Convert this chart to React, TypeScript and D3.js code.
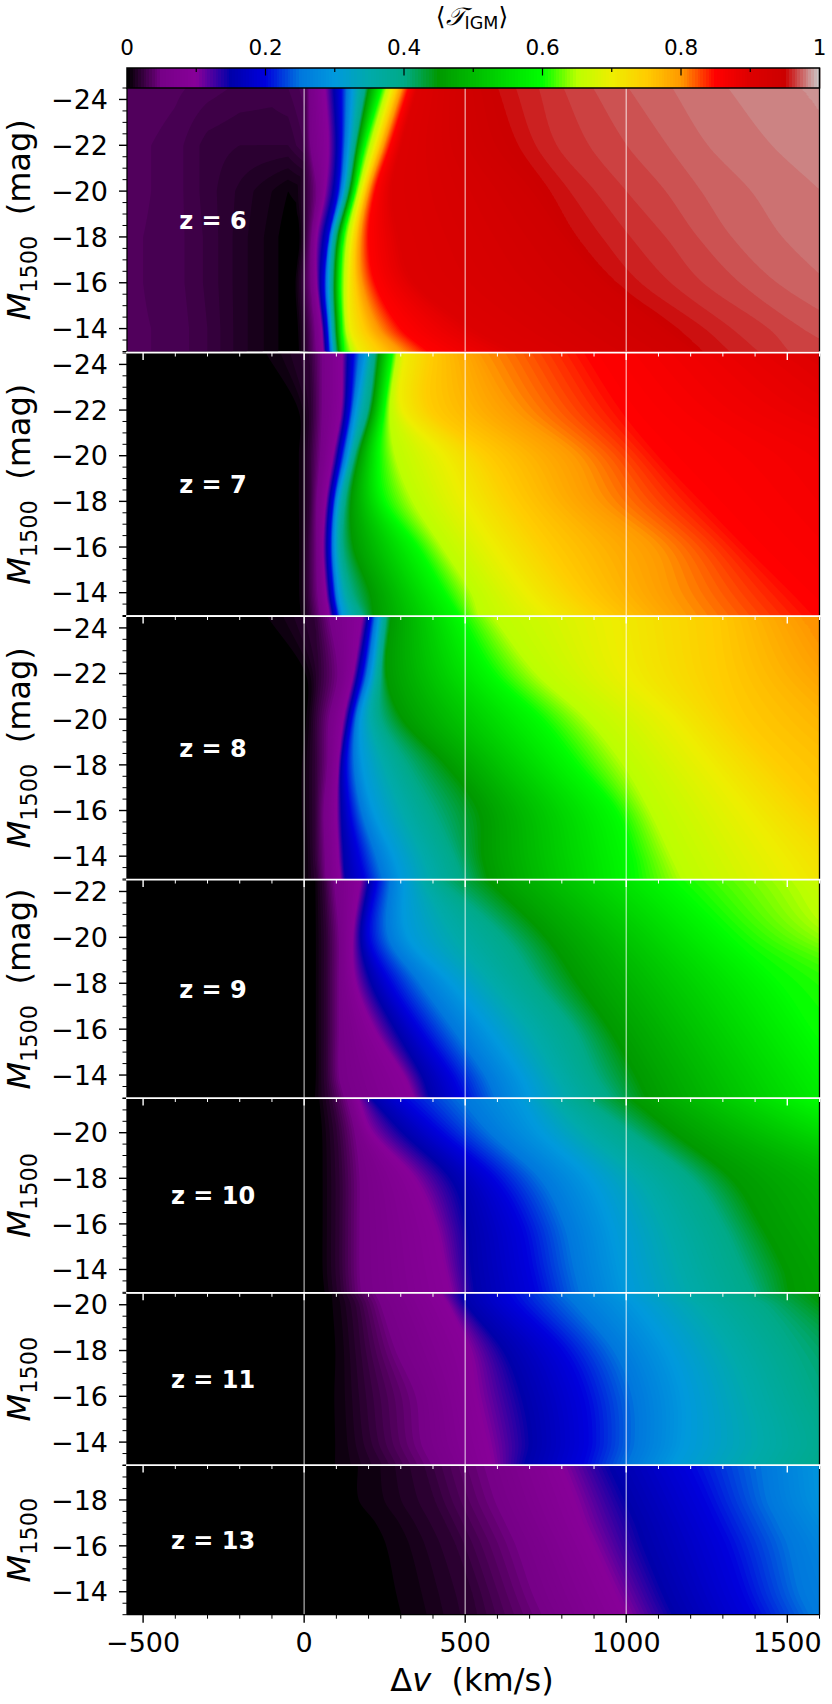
import React, { useMemo } from "react";
import * as d3 from "d3";

// nipy_spectral colour stops
const CMAP_STOPS = [
  [0, 0, 0], [0.4667, 0, 0.5333], [0.5333, 0, 0.6], [0, 0, 0.6667], [0, 0, 0.8667],
  [0, 0.4667, 0.8667], [0, 0.6, 0.8667], [0, 0.6667, 0.6667], [0, 0.6667, 0.5333], [0, 0.6, 0],
  [0, 0.7333, 0], [0, 0.8667, 0], [0, 1, 0], [0.7333, 1, 0], [0.9333, 0.9333, 0],
  [1, 0.8, 0], [1, 0.6, 0], [1, 0, 0], [0.8667, 0, 0], [0.8, 0, 0], [0.8, 0.8, 0.8],
];

// Each table: Delta-v (km/s) where <T_IGM> crosses a level (one row per level), per magnitude column
const Z6_MAGS = [-24.5, -22, -20, -18, -16, -14, -13];
const Z6_LEVELS = [0.02, 0.05, 0.1, 0.15, 0.2, 0.3, 0.4, 0.45, 0.6, 0.7, 0.8, 0.85, 0.9, 0.94, 0.952, 0.956, 0.96, 0.964, 0.968, 0.972, 0.976, 0.98, 0.984];
const Z6_EDGES = [
  [0, 0, 3, 3, -5, 5, 8],
  [15, 20, 40, 24, 22, 35, 38],
  [65, 75, 65, 39, 39, 55, 60],
  [92, 100, 90, 60, 50, 62, 67],
  [115, 115, 105, 76, 62, 72, 76],
  [150, 138, 122, 86, 76, 83, 88],
  [190, 158, 135, 98, 88, 93, 98],
  [200, 166, 143, 107, 96, 101, 107],
  [241, 189, 158, 122, 112, 117, 122],
  [272, 220, 179, 148, 138, 143, 170],
  [303, 246, 200, 174, 179, 230, 300],
  [324, 267, 220, 200, 220, 300, 385],
  [350, 300, 270, 290, 340, 520, 650],
  [520, 560, 680, 790, 920, 1100, 1200],
  [601, 665, 763, 847, 971, 1159, 1238],
  [657, 719, 824, 924, 1044, 1243, 1321],
  [728, 784, 903, 1013, 1138, 1327, 1410],
  [805, 885, 1000, 1122, 1238, 1442, 1505],
  [897, 1002, 1122, 1222, 1353, 1547, 1672],
  [1007, 1128, 1232, 1327, 1468, 1693, 1798],
  [1143, 1253, 1387, 1484, 1630, 1798, 1903],
  [1316, 1452, 1604, 1745, 1882, 2007, 2112],
  [1541, 1693, 1903, 2112, 2321, 2531, 2636],
];
const Z6_LEFT_DV = [-550, -400, -300, -200, -100, -50, 0, 60];
const Z6_LEFT = [
  [0.036, 0.033, 0.03, 0.027, 0.026, 0.028, 0.034, 0],
  [0.034, 0.03, 0.022, 0.02, 0.02, 0.02, 0.028, 0],
  [0.034, 0.03, 0.022, 0.015, 0.008, 0.004, 0.006, 0],
  [0.033, 0.03, 0.023, 0.014, 0.006, 0.001, 0.001, 0],
  [0.033, 0.03, 0.023, 0.014, 0.006, 0.001, 0.001, 0],
  [0.033, 0.031, 0.024, 0.014, 0.006, 0.001, 0.001, 0],
  [0.033, 0.031, 0.024, 0.014, 0.006, 0.001, 0.001, 0],
];

const Z7_MAGS = [-24.5, -22, -20, -18, -16, -14, -13];
const Z7_LEVELS = [0.005, 0.02, 0.05, 0.1, 0.15, 0.2, 0.3, 0.4, 0.45, 0.6, 0.65, 0.7, 0.75, 0.8, 0.85, 0.9];
const Z7_EDGES = [
  [-96, -11, -11, -11, -11, -11, -6],
  [17, 23, 17, 17, 11, 11, 17],
  [57, 57, 51, 40, 40, 43, 51],
  [119, 115, 90, 68, 59, 68, 79],
  [136, 127, 104, 79, 71, 79, 90],
  [153, 141, 115, 90, 81, 90, 102],
  [192, 161, 136, 104, 96, 107, 119],
  [221, 198, 156, 127, 119, 147, 181],
  [232, 209, 170, 145, 153, 204, 215],
  [274, 249, 232, 249, 351, 435, 481],
  [288, 266, 283, 339, 430, 520, 543],
  [311, 305, 430, 498, 588, 690, 758],
  [396, 396, 566, 656, 758, 860, 939],
  [543, 656, 837, 916, 1086, 1142, 1188],
  [882, 995, 1108, 1244, 1380, 1527, 1595],
  [1595, 1900, 2400, 2500, 2600, 2700, 2800],
];

const Z8_MAGS = [-24.5, -22, -20, -18, -16, -14, -13];
const Z8_LEVELS = [0.005, 0.02, 0.05, 0.1, 0.15, 0.2, 0.3, 0.4, 0.45, 0.6, 0.65, 0.7, 0.75, 0.8];
const Z8_EDGES = [
  [-90, 11, 11, 0, 0, 6, 6],
  [34, 45, 34, 34, 34, 34, 40],
  [79, 107, 79, 74, 62, 66, 68],
  [181, 153, 122, 107, 102, 107, 113],
  [198, 167, 136, 115, 115, 122, 127],
  [209, 181, 147, 130, 141, 170, 187],
  [232, 209, 175, 181, 215, 277, 300],
  [254, 238, 238, 317, 396, 464, 492],
  [269, 254, 305, 441, 543, 554, 571],
  [486, 588, 735, 848, 967, 1018, 1029],
  [588, 724, 882, 995, 1075, 1142, 1176],
  [950, 1000, 1142, 1255, 1368, 1470, 1516],
  [1278, 1301, 1357, 1482, 1617, 1787, 1844],
  [1538, 1674, 1900, 2126, 2240, 2352, 2465],
];

const Z9_MAGS = [-22.5, -20, -18, -16, -14, -13];
const Z9_LEVELS = [0.02, 0.05, 0.1, 0.15, 0.2, 0.3, 0.4, 0.45, 0.6, 0.65, 0.7];
const Z9_EDGES = [
  [61, 69, 69, 69, 69, 75],
  [94, 110, 110, 110, 110, 127],
  [176, 151, 160, 217, 308, 340],
  [201, 176, 209, 283, 365, 390],
  [225, 201, 266, 357, 456, 489],
  [308, 324, 456, 571, 670, 702],
  [423, 620, 719, 834, 900, 949],
  [571, 752, 850, 949, 1031, 1064],
  [1147, 1327, 1476, 1574, 1673, 1722],
  [1525, 1689, 2183, 2500, 2800, 3000],
  [1772, 2183, 2600, 2900, 3100, 3300],
];

const Z10_MAGS = [-21.5, -20, -18, -16, -14, -13];
const Z10_LEVELS = [0.02, 0.05, 0.1, 0.15, 0.2, 0.3, 0.4, 0.45, 0.6];
const Z10_EDGES = [
  [86, 102, 110, 110, 110, 115],
  [135, 160, 176, 176, 176, 180],
  [168, 209, 341, 406, 439, 456],
  [209, 308, 456, 505, 521, 530],
  [308, 423, 587, 670, 702, 719],
  [670, 735, 883, 949, 982, 999],
  [867, 1015, 1200, 1295, 1360, 1393],
  [1016, 1147, 1327, 1418, 1492, 1508],
  [1591, 1854, 2347, 2512, 2676, 2841],
];

const Z11_MAGS = [-20.5, -20, -18, -16, -14, -13];
const Z11_LEVELS = [0.005, 0.02, 0.05, 0.1, 0.15, 0.2, 0.3, 0.4, 0.45];
const Z11_EDGES = [
  [95, 100, 110, 110, 115, 120],
  [143, 160, 176, 192, 209, 242],
  [225, 242, 291, 357, 373, 406],
  [423, 447, 513, 538, 571, 587],
  [489, 505, 620, 678, 702, 686],
  [637, 661, 801, 867, 883, 867],
  [983, 1031, 1130, 1179, 1179, 1147],
  [1360, 1426, 1525, 1591, 1657, 1624],
  [1591, 1624, 1854, 2018, 2183, 2183],
];

const Z13_MAGS = [-19.5, -18, -17, -16, -14, -13];
const Z13_LEVELS = [0.005, 0.02, 0.05, 0.1, 0.15, 0.2, 0.25, 0.3];
const Z13_EDGES = [
  [201, 209, 258, 291, 324, 341],
  [373, 406, 439, 472, 521, 538],
  [571, 604, 637, 670, 719, 752],
  [801, 842, 867, 900, 966, 999],
  [949, 999, 1031, 1056, 1114, 1147],
  [1196, 1245, 1278, 1311, 1360, 1393],
  [1426, 1443, 1476, 1508, 1541, 1574],
  [1624, 1640, 1689, 1755, 1854, 1887],
];

const REDSHIFTS = [6, 7, 8, 9, 10, 11, 13];
const MAG_TOPS = [-24.5, -24.5, -24.5, -22.5, -21.5, -20.5, -19.5];
const Y_UNITS = ["(mag)", "(mag)", "(mag)", "(mag)", "", "", ""];
const X_MAJOR = [-500, 0, 500, 1000, 1500];
const X_MINOR = d3.range(-500, 1601, 100);
const MARKED_DV = [0, 500, 1000];
const CBAR_TICKS = [0, 0.2, 0.4, 0.6, 0.8, 1];
const CBAR_MINOR = d3.range(1, 10).map((d) => d / 10);

const TABLES = [
  { mags: Z6_MAGS, levels: Z6_LEVELS, edges: Z6_EDGES, left: Z6_LEFT },
  { mags: Z7_MAGS, levels: Z7_LEVELS, edges: Z7_EDGES },
  { mags: Z8_MAGS, levels: Z8_LEVELS, edges: Z8_EDGES },
  { mags: Z9_MAGS, levels: Z9_LEVELS, edges: Z9_EDGES },
  { mags: Z10_MAGS, levels: Z10_LEVELS, edges: Z10_EDGES },
  { mags: Z11_MAGS, levels: Z11_LEVELS, edges: Z11_EDGES },
  { mags: Z13_MAGS, levels: Z13_LEVELS, edges: Z13_EDGES },
];

// layout (pixels)
const W = 832, H = 1704;
const PLOT_L = 127, PLOT_R = 819.5;
const CB_T = 68, CB_B = 88;
const PANEL_T = [88, 353, 616.5, 880, 1098.5, 1293.3, 1465.5];
const PANEL_B = [351.5, 615.5, 879, 1098, 1292.3, 1465, 1614.7];
const FONT = "'DejaVu Sans', sans-serif";
const STEP = 0.004;

const xScale = d3.scaleLinear().domain([-550, 1600]).range([PLOT_L, PLOT_R]);
const cbScale = d3.scaleLinear().domain([0, 1]).range([PLOT_L, PLOT_R]);
const colorAt = d3.scaleLinear<string>()
  .domain(CMAP_STOPS.map((_, i) => i / 20))
  .range(CMAP_STOPS.map((c) => `rgb(${c.map((v) => Math.round(v * 255)).join(",")})`))
  .clamp(true);
const BANDS = d3.range(0, 250).map((i) => i * STEP);

// Hermite interpolation through non-uniform knots
function smoothAt(xs: number[], ys: number[], x: number) {
  const n = xs.length;
  let i = d3.bisectRight(xs, x) - 1;
  i = Math.max(0, Math.min(n - 2, i));
  const h = xs[i + 1] - xs[i];
  const slope = (a: number) => {
    if (a === 0) return (ys[1] - ys[0]) / (xs[1] - xs[0]);
    if (a === n - 1) return (ys[n - 1] - ys[n - 2]) / (xs[n - 1] - xs[n - 2]);
    return (ys[a + 1] - ys[a - 1]) / (xs[a + 1] - xs[a - 1]);
  };
  const t = (x - xs[i]) / h;
  const t2 = t * t, t3 = t2 * t;
  return (2 * t3 - 3 * t2 + 1) * ys[i] + (t3 - 2 * t2 + t) * h * slope(i) +
    (-2 * t3 + 3 * t2) * ys[i + 1] + (t3 - t2) * h * slope(i + 1);
}

function buildField(index: number, nx: number, ny: number, gx: any, gy: any) {
  const table: any = TABLES[index];
  const out = new Float64Array(nx * ny);
  for (let j = 0; j < ny; j++) {
    const m = gy(j + 0.5);
    const pos: number[] = [];
    table.edges.forEach((row: number[], k: number) => {
      const p = smoothAt(table.mags, row, m);
      pos.push(k ? Math.max(p, pos[k - 1] + 0.01) : p);
    });
    const lv = table.levels;
    let leftRow: number[] | null = null;
    if (table.left) {
      const b = Math.max(0, Math.min(table.mags.length - 2, d3.bisectRight(table.mags, m) - 1));
      const f = (m - table.mags[b]) / (table.mags[b + 1] - table.mags[b]);
      leftRow = table.left[b].map((v: number, q: number) => v + (table.left[b + 1][q] - v) * f);
    }
    for (let i = 0; i < nx; i++) {
      const x = gx(i + 0.5);
      let t: number;
      const b = d3.bisectRight(pos, x);
      if (b === 0) {
        const p0 = pos[0] - (pos[1] - pos[0]);
        t = x <= p0 ? 0 : (lv[0] * (x - p0)) / (pos[0] - p0);
      } else if (b >= pos.length) {
        t = lv[lv.length - 1];
      } else {
        t = lv[b - 1] + ((lv[b] - lv[b - 1]) * (x - pos[b - 1])) / (pos[b] - pos[b - 1]);
      }
      if (leftRow && x < Z6_LEFT_DV[Z6_LEFT_DV.length - 1]) {
        const q = Math.max(0, d3.bisectRight(Z6_LEFT_DV, x) - 1);
        const g = (x - Z6_LEFT_DV[q]) / (Z6_LEFT_DV[q + 1] - Z6_LEFT_DV[q]);
        t = Math.max(t, leftRow[q] + (leftRow[q + 1] - leftRow[q]) * g);
      }
      out[j * nx + i] = t;
    }
  }
  return out;
}

function Panel({ index }: { index: number }) {
  const top = PANEL_T[index], bottom = PANEL_B[index];
  const yScale = d3.scaleLinear().domain([MAG_TOPS[index], -13]).range([top, bottom]);
  const paths = useMemo(() => {
    const nx = 346, ny = Math.round((bottom - top) / 1.5);
    const gx = d3.scaleLinear().domain([0, nx]).range([-550, 1600]);
    const gy = d3.scaleLinear().domain([0, ny]).range([MAG_TOPS[index], -13]);
    const values = buildField(index, nx, ny, gx, gy);
    const maxV = d3.max(values as any) as number;
    const thresholds = BANDS.filter((b) => b > 0 && b <= maxV);
    const gen = d3.contours().size([nx, ny]).thresholds(thresholds).smooth(true);
    const path = d3.geoPath(d3.geoTransform({
      point(x: number, y: number) { (this as any).stream.point(xScale(gx(x)), yScale(gy(y))); },
    }));
    return gen(values as any).map((c: any) => ({ d: path(c) as string, v: c.value }));
  }, [index]);
  const minor = d3.range(MAG_TOPS[index], -12.9, 0.5).filter((m) => m % 2 !== 0);
  const major = d3.range(-24, -12, 2).filter((m) => m >= MAG_TOPS[index]);
  const mid = (top + bottom) / 2;
  const id = `clip${index}`;
  return (
    <g>
      <clipPath id={id}><rect x={PLOT_L} y={top} width={PLOT_R - PLOT_L} height={bottom - top} /></clipPath>
      <g clipPath={`url(#${id})`}>
        <rect x={PLOT_L} y={top} width={PLOT_R - PLOT_L} height={bottom - top} fill={colorAt(0)} />
        {paths.filter((p) => p.d).map((p) => (
          <path key={p.v} d={p.d} fill={colorAt(p.v + STEP / 2)} />
        ))}
      </g>
      {MARKED_DV.map((v) => (
        <line key={v} x1={xScale(v)} x2={xScale(v)} y1={top} y2={bottom} stroke="#fff" strokeOpacity={0.6} strokeWidth={1.4} />
      ))}
      <line x1={PLOT_L} x2={PLOT_L} y1={top} y2={bottom} stroke="#000" strokeWidth={1.3} />
      <line x1={PLOT_R} x2={PLOT_R} y1={top} y2={bottom} stroke="#000" strokeWidth={1.3} />
      {major.map((m) => (
        <g key={m}>
          <line x1={PLOT_L - 8} x2={PLOT_L} y1={yScale(m)} y2={yScale(m)} stroke="#000" strokeWidth={1.4} />
          <text x={PLOT_L - 19} y={yScale(m)} dy="0.36em" textAnchor="end" fontFamily={FONT} fontSize={27} fill="#000">
            {`\u2212${Math.abs(m)}`}
          </text>
        </g>
      ))}
      {minor.map((m) => (
        <line key={m} x1={PLOT_L - 4.5} x2={PLOT_L} y1={yScale(m)} y2={yScale(m)} stroke="#000" strokeWidth={1} />
      ))}
      {index > 0 && (
        <g>
          <line x1={PLOT_L - 1} x2={W} y1={top - 0.4} y2={top - 0.4} stroke="#fff" strokeWidth={1.7} />
          {X_MINOR.filter((v) => !X_MAJOR.includes(v)).map((v) => (
            <line key={v} x1={xScale(v)} x2={xScale(v)} y1={top} y2={top + 3.5} stroke="#fff" strokeWidth={1} />
          ))}
          {X_MAJOR.map((v) => (
            <line key={v} x1={xScale(v)} x2={xScale(v)} y1={top} y2={top + 7} stroke="#fff" strokeWidth={1.4} />
          ))}
        </g>
      )}
      <text x={213} y={mid} dy="0.37em" textAnchor="middle" fontFamily={FONT} fontWeight="bold" fontSize={24} fill="#fff">
        {`z = ${REDSHIFTS[index]}`}
      </text>
      <text transform={`translate(30,${mid}) rotate(-90)`} textAnchor="middle" fontFamily={FONT} fontSize={32} fill="#000" xmlSpace="preserve">
        <tspan fontStyle="italic">M</tspan>
        <tspan fontSize={22.4} dy={7}>1500</tspan>
        <tspan dy={-7}>{Y_UNITS[index] ? `  ${Y_UNITS[index]}` : ""}</tspan>
      </text>
    </g>
  );
}

export default function App() {
  const last = PANEL_B[PANEL_B.length - 1];
  return (
    <svg width={W} height={H} viewBox={`0 0 ${W} ${H}`} style={{ position: "absolute", left: 0, top: 0, display: "block", background: "#fff" }}>
      {/* colour bar */}
      <g shapeRendering="crispEdges">
        {BANDS.map((b) => (
          <rect key={b} x={cbScale(b)} y={CB_T} width={cbScale(STEP) - cbScale(0) + 1} height={CB_B - CB_T} fill={colorAt(b + STEP / 2)} />
        ))}
      </g>
      {REDSHIFTS.map((_, i) => <Panel key={i} index={i} />)}
      <rect x={PLOT_L} y={CB_T} width={PLOT_R - PLOT_L} height={CB_B - CB_T} fill="none" stroke="#000" strokeWidth={1.5} />
      {CBAR_MINOR.map((v) => (
        <line key={v} x1={cbScale(v)} x2={cbScale(v)} y1={CB_T} y2={CB_T + (Math.round(v * 10) % 2 ? 4 : 7.5)} stroke="#000" strokeWidth={1.2} />
      ))}
      {CBAR_TICKS.map((v) => (
        <text key={v} x={cbScale(v)} y={CB_T - 13} textAnchor="middle" fontFamily={FONT} fontSize={21.5} fill="#000">
          {String(v)}
        </text>
      ))}
      <text x={472} y={25} textAnchor="middle" fontFamily={FONT} fontSize={25} fill="#000">
        {"\u27E8"}
        <tspan fontStyle="italic">{"\u{1D4AF}"}</tspan>
        <tspan fontSize={17.5} dy={4}>IGM</tspan>
        <tspan dy={-4}>{"\u27E9"}</tspan>
      </text>
      {/* bottom x axis */}
      <line x1={PLOT_L} x2={PLOT_R} y1={last} y2={last} stroke="#000" strokeWidth={1.3} />
      {X_MINOR.filter((v) => !X_MAJOR.includes(v)).map((v) => (
        <line key={v} x1={xScale(v)} x2={xScale(v)} y1={last} y2={last + 4} stroke="#000" strokeWidth={1} />
      ))}
      {X_MAJOR.map((v) => (
        <g key={v}>
          <line x1={xScale(v)} x2={xScale(v)} y1={last} y2={last + 8} stroke="#000" strokeWidth={1.4} />
          <text x={xScale(v)} y={1652} textAnchor="middle" fontFamily={FONT} fontSize={27} fill="#000">
            {v < 0 ? `\u2212${Math.abs(v)}` : String(v)}
          </text>
        </g>
      ))}
      <text x={472} y={1691} textAnchor="middle" fontFamily={FONT} fontSize={32} fill="#000" xmlSpace="preserve">
        {"\u0394"}<tspan fontStyle="italic">v</tspan>{"  (km/s)"}
      </text>
    </svg>
  );
}
